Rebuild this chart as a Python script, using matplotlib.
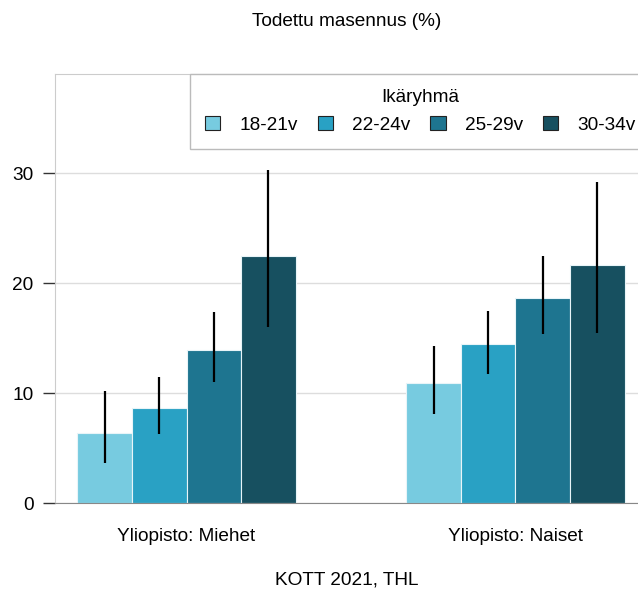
import numpy as np
import matplotlib
matplotlib.use("Agg")
import matplotlib.pyplot as plt

plt.rcParams['font.family'] = ['Liberation Sans', 'DejaVu Sans']

groups = ['Yliopisto: Miehet', 'Yliopisto: Naiset']
ages = ['18-21v', '22-24v', '25-29v', '30-34v']
colors = ['#77CBE0', '#29A1C4', '#1E7590', '#175060']

# values per age group: [Miehet, Naiset]
values = {
    '18-21v': [6.4, 10.9],
    '22-24v': [8.6, 14.45],
    '25-29v': [13.9, 18.6],
    '30-34v': [22.5, 21.6],
}
lower = {
    '18-21v': [3.6, 8.1],
    '22-24v': [6.3, 11.7],
    '25-29v': [11.0, 15.4],
    '30-34v': [16.0, 15.5],
}
upper = {
    '18-21v': [10.2, 14.3],
    '22-24v': [11.5, 17.5],
    '25-29v': [17.4, 22.5],
    '30-34v': [30.3, 29.2],
}

fs = 13.7

fig = plt.figure(figsize=(6.38, 5.95), dpi=100)
ax = fig.add_axes([55 / 638, 92 / 595, 592 / 638, 429 / 595])

x = np.arange(len(groups))
w = 0.166
for i, age in enumerate(ages):
    pos = x + (i - 1.5) * w
    v = np.array(values[age])
    err = [v - np.array(lower[age]), np.array(upper[age]) - v]
    ax.bar(pos, v, width=w, color=colors[i], edgecolor='#e8f4f8',
           linewidth=0.8, label=age, zorder=2)
    ax.errorbar(pos, v, yerr=err, fmt='none', ecolor='black',
                elinewidth=1.6, capsize=0, zorder=3)

ax.set_xlim(-0.4, 1.4)
ax.set_ylim(0, 39)
ax.set_yticks([0, 10, 20, 30])
ax.set_xticks(x)
ax.set_xticklabels(groups, fontsize=fs)
ax.tick_params(axis='x', length=0, pad=18)
ax.tick_params(axis='y', length=8.5, width=1, color='#333333', labelsize=fs, pad=7)
ax.grid(axis='y', color='#dddddd', linewidth=1, zorder=0)
ax.set_axisbelow(True)

for side in ['left', 'top', 'right']:
    ax.spines[side].set_color('#cccccc')
ax.spines['bottom'].set_color('#888888')

leg = ax.legend(title='Ikäryhmä', ncol=4, loc='upper left',
                bbox_to_anchor=(190 / 638, 521 / 595), bbox_transform=fig.transFigure,
                borderaxespad=0, fontsize=fs, title_fontsize=fs,
                handlelength=0.8, handleheight=0.8, handletextpad=1.0,
                columnspacing=1.05, borderpad=0.8, fancybox=False, framealpha=1)
leg.get_frame().set_edgecolor('#bbbbbb')
leg.get_frame().set_linewidth(1)
for h in leg.legend_handles:
    h.set_edgecolor('#222222')
    h.set_linewidth(0.8)

fig.text(347 / 638, 1 - 22 / 595, 'Todettu masennus (%)', ha='center', va='center', fontsize=fs)
fig.text(347 / 638, 1 - 580 / 595, 'KOTT 2021, THL', ha='center', va='center', fontsize=fs)

fig.savefig('out.png', dpi=100)
